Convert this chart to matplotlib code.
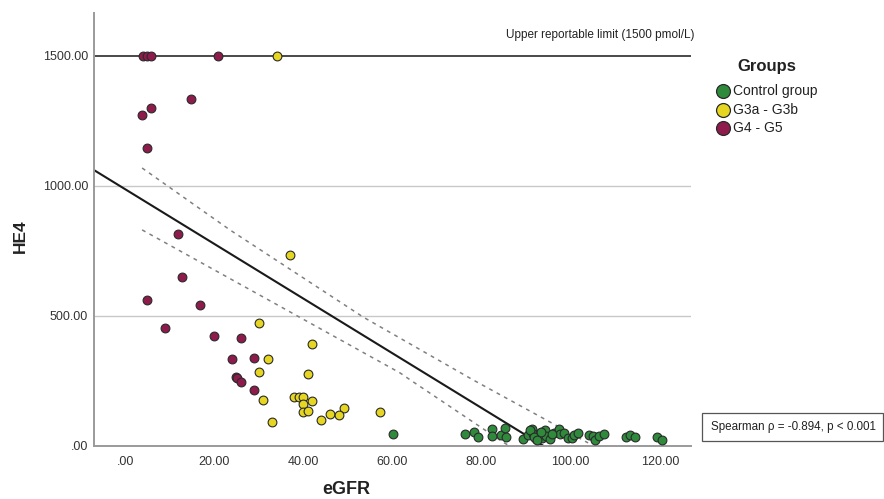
import matplotlib
matplotlib.use("Agg")
import matplotlib.pyplot as plt
from matplotlib.lines import Line2D
from matplotlib.patches import Rectangle

plt.rcParams['font.family'] = ['Liberation Sans', 'DejaVu Sans']

# ---- data ----
control_egfr = [60.1, 76.2, 78.3, 79.2, 82.4, 82.4, 84.3, 85.3, 85.4, 89.3, 90.5, 91.3,
                91.5, 92.3, 93.0, 93.6, 94.3, 94.5, 95.4, 96.3, 97.3, 97.6, 98.5, 99.3,
                100.2, 100.8, 101.6, 104.2, 105.1, 105.5, 106.3, 107.4, 112.3, 113.3,
                114.4, 119.4, 120.5, 90.9, 91.7, 92.4, 93.3, 95.8]
control_he4 = [46, 46, 54, 33, 64, 38, 42, 68, 36, 28, 42, 64,
               45, 26, 49, 30, 62, 38, 26, 51, 64, 45, 49, 32,
               29, 42, 49, 42, 38, 23, 38, 46, 33, 42,
               33, 36, 23, 62, 36, 23, 55, 45]

g3_egfr = [34.1, 37.0, 30.0, 42.0, 32.0, 30.0, 41.0, 30.9, 38.0, 39.0, 40.0, 40.0,
           42.0, 40.0, 41.0, 49.1, 46.0, 48.1, 44.0, 32.9, 57.1]
g3_he4 = [1500, 735, 474, 391, 335, 285, 278, 178, 187, 187, 187, 160,
          172, 130, 133, 146, 123, 118, 100, 92, 132]

g4_egfr = [3.9, 4.9, 5.9, 20.8, 3.8, 5.8, 14.8, 4.9, 11.8, 12.8, 4.9, 16.8,
           8.9, 19.9, 25.9, 23.9, 28.9, 24.8, 25.1, 25.9, 28.9]
g4_he4 = [1500, 1500, 1500, 1500, 1274, 1299, 1335, 1147, 814, 651, 562, 544,
          452, 423, 417, 335, 340, 267, 262, 246, 215]

fit_x = [-7.0, 93.9]
fit_y = [1061, 0]
ci_upper_x = [3.8, 23.5, 53.4, 78.1, 103.9]
ci_upper_y = [1069, 831, 496, 254, 12]
ci_lower_x = [3.8, 61.7, 64.0, 84.8, 86.3]
ci_lower_y = [831, 281, 254, 15, 0]

limit = 1500
y_ticks = [0, 500, 1000, 1500]
y_ticklabels = ['.00', '500.00', '1000.00', '1500.00']
x_ticks = [0, 20, 40, 60, 80, 100, 120]
x_ticklabels = ['.00', '20.00', '40.00', '60.00', '80.00', '100.00', '120.00']

groups = ['Control group', 'G3a - G3b', 'G4 - G5']
colors = ['#2f8a3c', '#e6d622', '#8e1b4c']

W, H = 884, 499

def fx(px):
    return px / W

def fy(py):
    return 1 - py / H

# ---- figure ----
fig = plt.figure(figsize=(8.84, 4.99), dpi=100)
ax = fig.add_axes([fx(94), fy(446), (691 - 94) / W, (446 - 13) / H])

ax.set_xlim(-7, 127)
ax.set_ylim(0, 1665)

for y in [500, 1000]:
    ax.axhline(y, color='#c8c8c8', lw=1.0, zorder=1)
ax.axhline(limit, color='#3a3a3a', lw=1.3, zorder=1)

ax.plot(fit_x, fit_y, color='#1a1a1a', lw=1.5, zorder=2)
ax.plot(ci_upper_x, ci_upper_y, color='#808080', lw=1.1, ls=(0, (2.5, 3)), zorder=2)
ax.plot(ci_lower_x, ci_lower_y, color='#808080', lw=1.1, ls=(0, (2.5, 3)), zorder=2)

for xs, ys, c in [(control_egfr, control_he4, colors[0]),
                  (g3_egfr, g3_he4, colors[1]),
                  (g4_egfr, g4_he4, colors[2])]:
    ax.scatter(xs, ys, s=40, color=c, edgecolor='#2a2a2a', linewidth=0.8, zorder=3,
               clip_on=False)

ax.set_xticks(x_ticks)
ax.set_xticklabels(x_ticklabels)
ax.set_yticks(y_ticks)
ax.set_yticklabels(y_ticklabels)
ax.tick_params(axis='both', length=0, labelsize=9, colors='#333333')
ax.tick_params(axis='y', pad=4.3)
ax.tick_params(axis='x', pad=7.5)

for s in ['top', 'right']:
    ax.spines[s].set_visible(False)
for s in ['left', 'bottom']:
    ax.spines[s].set_color('#9a9a9a')
    ax.spines[s].set_linewidth(1.4)

fig.text(fx(20), fy(236), 'HE4', rotation=90, ha='center', va='center',
         fontsize=12.5, fontweight='bold', color='#222222')
fig.text(fx(346), fy(490), 'eGFR', ha='center', va='center',
         fontsize=13, fontweight='bold', color='#222222')

fig.text(fx(695), fy(35), 'Upper reportable limit (1500 pmol/L)', ha='right',
         va='center', fontsize=8.5, color='#222222')

# legend (manual placement)
fig.text(fx(767), fy(66), 'Groups', ha='center', va='center', fontsize=12,
         fontweight='bold', color='#222222')
leg_y = [91, 110, 128]
for g, c, py in zip(groups, colors, leg_y):
    fig.add_artist(Line2D([fx(723)], [fy(py)], ls='none', marker='o', markersize=10,
                          markerfacecolor=c, markeredgecolor='#2a2a2a',
                          markeredgewidth=0.9, transform=fig.transFigure))
    fig.text(fx(733), fy(py), g, ha='left', va='center', fontsize=10, color='#222222')

# Spearman box
fig.add_artist(Rectangle((fx(702), fy(441)), (883 - 702) / W, (441 - 413) / H,
                         transform=fig.transFigure, facecolor='white',
                         edgecolor='#555555', linewidth=0.9))
fig.text(fx(711), fy(427), 'Spearman ρ = -0.894, p < 0.001', ha='left',
         va='center', fontsize=8.4, color='#222222')

fig.savefig('out.png', dpi=100)
